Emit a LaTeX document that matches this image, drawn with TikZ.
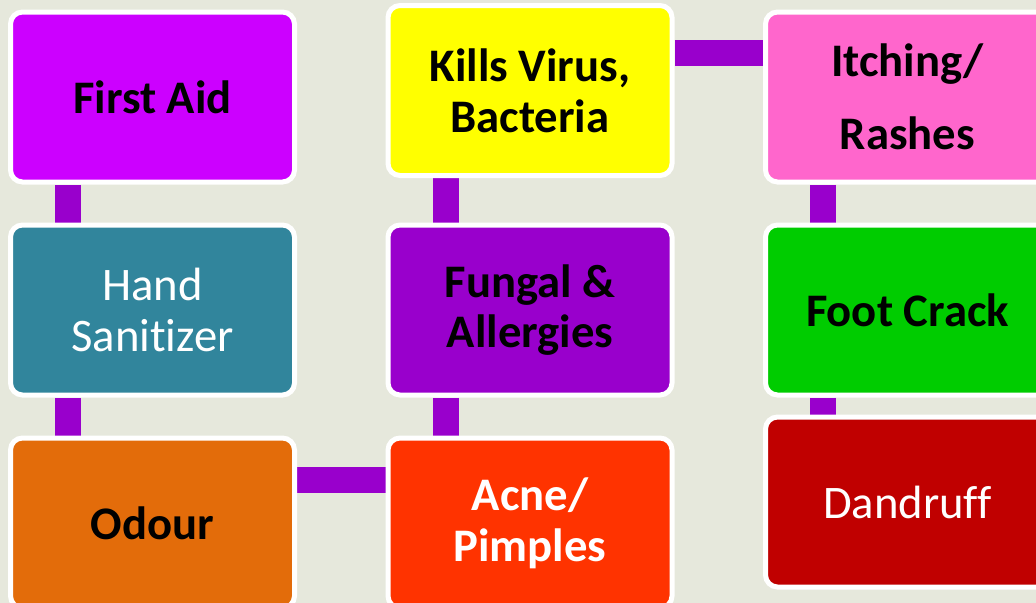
\documentclass[tikz,border=0pt]{standalone}
\usepackage{fontspec}
\setmainfont{Carlito}[Ligatures={NoCommon}]
\usepackage{tikz}
\usetikzlibrary{
  positioning,
  calc,
  backgrounds
}
\usepackage{xcolor}
\definecolor{paper}{HTML}{E6E8DC}
\definecolor{linkpurple}{HTML}{9900CC}
\definecolor{aidpurple}{HTML}{CC00FF}
\definecolor{santeal}{HTML}{31859C}
\definecolor{odourorange}{HTML}{E36C0A}
\definecolor{killyellow}{HTML}{FFFF00}
\definecolor{fungpurple}{HTML}{9900CC}
\definecolor{acnered}{HTML}{FF3300}
\definecolor{itchpink}{HTML}{FF66CC}
\definecolor{footgreen}{HTML}{00CC00}
\definecolor{dandred}{HTML}{C00000}
\tikzset{
  card/.style={
    rectangle, draw=white, fill=#1, rounded corners=9pt,
    minimum width=213pt, minimum height=127.5pt, inner sep=0pt,
    font=\fontsize{35}{38}\selectfont\bfseries, align=center, line width=3.75pt
  },
  card/.default=aidpurple,
  plaincard/.style={card=#1, text=white, font=\fontsize{35}{38}\selectfont},
  link/.style={draw=linkpurple, line width=19.5pt},
}

\begin{document}
\begin{tikzpicture}[x=0.75pt, y=-0.75pt]

\useasboundingbox (0,0) rectangle (1036,603);
\clip (0,0) rectangle (1036,603);

% Left column
\node[card=aidpurple] (aid) at (152.5,97) {First Aid};
\node[plaincard=santeal] (hand) at (152.5,310) {Hand\\Sanitizer};
\node[card=odourorange] (odour) at (152.5,523) {Odour};

% Middle column
\node[card=killyellow] (kills) at (530,90.5) {Kills Virus,\\Bacteria};
\node[card=fungpurple] (fungal) at (530,310) {Fungal \&\\Allergies};
\node[card=acnered, text=white] (acne) at (530,523) {Acne/\\Pimples};

% Right column
\node[card=itchpink] (itch) at (907.5,97) {Itching/\\[17pt]Rashes};
\node[card=footgreen] (foot) at (907.5,310) {Foot Crack};
\node[plaincard=dandred] (dandruff) at (907.5,502) {Dandruff};

% Links
\begin{scope}[on background layer]
\fill[paper] (0,0) rectangle (1036,603);
\draw[link] ([xshift=45pt]aid.south west) -- ([xshift=45pt]hand.north west);
\draw[link] ([xshift=45pt]hand.south west) -- ([xshift=45pt]odour.north west);
\draw[link] ([xshift=45pt]kills.south west) -- ([xshift=45pt]fungal.north west);
\draw[link] ([xshift=45pt]fungal.south west) -- ([xshift=45pt]acne.north west);
\draw[link] ([xshift=45pt]itch.south west) -- ([xshift=45pt]foot.north west);
\draw[link] ([xshift=45pt]foot.south west) -- ([xshift=45pt]dandruff.north west);
\draw[link] ([yshift=32pt]odour.east) -- ([yshift=32pt]acne.west);
\coordinate (kv) at ([yshift=28.5pt]kills.east);
\draw[link] (kv) -- (kv -| itch.west);
\end{scope}

\end{tikzpicture}
\end{document}
